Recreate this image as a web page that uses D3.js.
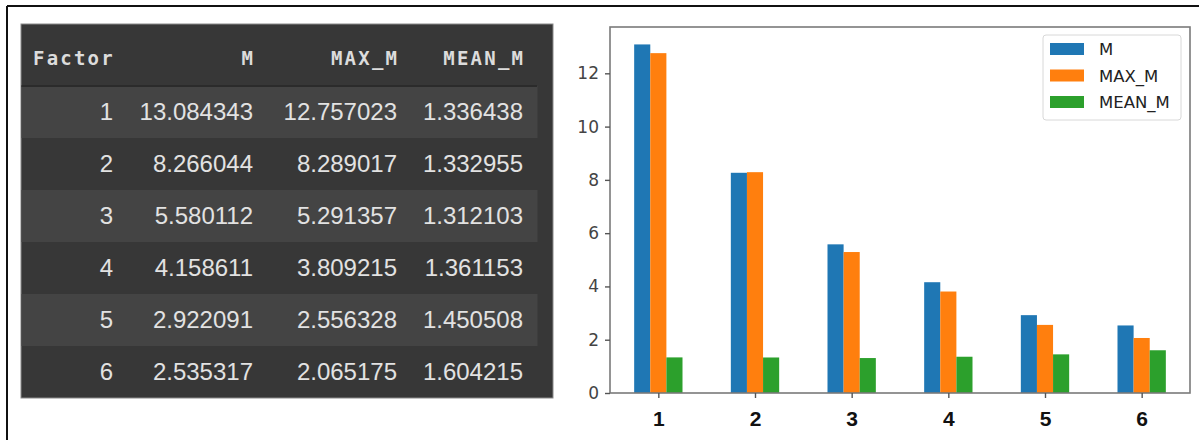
<!DOCTYPE html>
<html>
<head>
<meta charset="utf-8">
<script src="https://cdn.jsdelivr.net/npm/d3@7"></script>
<style>
  html, body { margin: 0; padding: 0; background: #fff; }
  svg { display: block; }
</style>
</head>
<body>
<svg id="canvas" width="1199" height="440"></svg>
<script>
// Factor table and per-factor statistics
const factors = [1, 2, 3, 4, 5, 6];
const mValues = [13.084343, 8.266044, 5.580112, 4.158611, 2.922091, 2.535317];
const maxValues = [12.757023, 8.289017, 5.291357, 3.809215, 2.556328, 2.065175];
const meanValues = [1.336438, 1.332955, 1.312103, 1.361153, 1.450508, 1.604215];
const seriesNames = ["M", "MAX_M", "MEAN_M"];
const columnHeaders = ["Factor", "M", "MAX_M", "MEAN_M"];
const yTicks = [0, 2, 4, 6, 8, 10, 12];

const seriesValues = [mValues, maxValues, meanValues];
const colors = d3.scaleOrdinal().domain(seriesNames).range(["#1f77b4", "#ff7f0e", "#2ca02c"]);

const svg = d3.select("#canvas");

// frame lines along top and left
svg.append("line").attr("x1", 7).attr("x2", 1199).attr("y1", 6).attr("y2", 6)
  .attr("stroke", "#111").attr("stroke-width", 2);
svg.append("line").attr("x1", 7).attr("x2", 7).attr("y1", 6).attr("y2", 440)
  .attr("stroke", "#111").attr("stroke-width", 2);

// ---------- dark table ----------
const table = { x: 21, y: 24, w: 532, h: 374, headerH: 62, rowH: 52, stripeRight: 537 };
const colRight = [113, 253, 397, 523];
const headSpacing = 2.2;

const tg = svg.append("g");
tg.append("rect").attr("x", table.x).attr("y", table.y).attr("width", table.w).attr("height", table.h)
  .attr("fill", "#373737").attr("stroke", "#8a8a8a").attr("stroke-width", 1);

const rowY = d3.scaleBand().domain(factors).range([table.y + table.headerH, table.y + table.headerH + table.rowH * factors.length]);

tg.selectAll("rect.stripe").data(factors.filter((d, i) => i % 2 === 0)).join("rect")
  .attr("class", "stripe")
  .attr("x", table.x + 0.5).attr("y", d => rowY(d))
  .attr("width", table.stripeRight - table.x).attr("height", rowY.bandwidth())
  .attr("fill", "#444444");

tg.append("line").attr("x1", table.x + 0.5).attr("x2", table.stripeRight)
  .attr("y1", table.y + table.headerH).attr("y2", table.y + table.headerH)
  .attr("stroke", "#2b2b2b").attr("stroke-width", 2);

tg.selectAll("text.head").data(columnHeaders).join("text")
  .attr("class", "head")
  .attr("x", (d, i) => i === 0 ? 33 : colRight[i] + headSpacing)
  .attr("y", table.y + 41)
  .attr("text-anchor", (d, i) => i === 0 ? "start" : "end")
  .attr("font-family", "'DejaVu Sans Mono', monospace")
  .attr("font-weight", "bold")
  .attr("font-size", 19)
  .attr("letter-spacing", headSpacing)
  .attr("fill", "#dcdcdc")
  .text(d => d);

const rows = factors.map((f, i) => [String(f), mValues[i].toFixed(6), maxValues[i].toFixed(6), meanValues[i].toFixed(6)]);
const rowG = tg.selectAll("g.row").data(rows).join("g").attr("class", "row")
  .attr("transform", (d, i) => `translate(0,${rowY(factors[i]) + 34})`);
rowG.selectAll("text").data(d => d).join("text")
  .attr("x", (d, i) => colRight[i])
  .attr("text-anchor", "end")
  .attr("font-family", "'Liberation Sans', Arial, sans-serif")
  .attr("font-size", 24)
  .attr("fill", "#e2e2e2")
  .text(d => d);

// ---------- grouped bar chart ----------
const plot = { left: 610, right: 1190, top: 27, bottom: 393 };
const yMax = d3.max(mValues) * 1.05;

const x0 = d3.scaleBand().domain(factors).range([plot.left, plot.right]).paddingInner(0.5).paddingOuter(0.25);
const x1 = d3.scaleBand().domain(seriesNames).range([0, x0.bandwidth()]);
const y = d3.scaleLinear().domain([0, yMax]).range([plot.bottom, plot.top]);

const cg = svg.append("g");

const groups = cg.selectAll("g.grp").data(factors).join("g").attr("class", "grp")
  .attr("transform", d => `translate(${x0(d)},0)`);
groups.selectAll("rect").data((f, i) => seriesNames.map((s, j) => ({ s, v: seriesValues[j][i] }))).join("rect")
  .attr("x", d => x1(d.s))
  .attr("width", x1.bandwidth())
  .attr("y", d => y(d.v))
  .attr("height", d => y(0) - y(d.v))
  .attr("fill", d => colors(d.s));

// axes frame
cg.append("rect").attr("x", plot.left).attr("y", plot.top)
  .attr("width", plot.right - plot.left).attr("height", plot.bottom - plot.top)
  .attr("fill", "none").attr("stroke", "#7a7a7a").attr("stroke-width", 1.6);

const yAxis = cg.append("g").attr("transform", `translate(${plot.left},0)`)
  .call(d3.axisLeft(y).tickValues(yTicks).tickSize(5).tickPadding(6).tickFormat(d3.format("d")));
yAxis.select(".domain").remove();
yAxis.selectAll(".tick line").attr("stroke", "#555").attr("stroke-width", 1.4);
yAxis.selectAll(".tick text")
  .attr("font-family", "'DejaVu Sans', sans-serif").attr("font-size", 17).attr("fill", "#444");

const xAxis = cg.append("g").attr("transform", `translate(0,${plot.bottom})`)
  .call(d3.axisBottom(d3.scalePoint().domain(factors).range([x0(1) + x0.bandwidth() / 2, x0(6) + x0.bandwidth() / 2]))
    .tickSize(5).tickPadding(13));
xAxis.select(".domain").remove();
xAxis.selectAll(".tick line").attr("stroke", "#555").attr("stroke-width", 1.4);
xAxis.selectAll(".tick text")
  .attr("font-family", "'Liberation Sans', Arial, sans-serif").attr("font-weight", "bold")
  .attr("font-size", 21).attr("fill", "#111");

// legend
const lg = cg.append("g").attr("transform", "translate(1043,35)");
lg.append("rect").attr("width", 138).attr("height", 85).attr("rx", 3)
  .attr("fill", "#fff").attr("stroke", "#d8d8d8").attr("stroke-width", 1);
const items = lg.selectAll("g.item").data(seriesNames).join("g").attr("class", "item")
  .attr("transform", (d, i) => `translate(0,${14 + i * 26.5})`);
items.append("rect").attr("x", 7).attr("y", -6).attr("width", 34).attr("height", 12)
  .attr("fill", d => colors(d));
items.append("text").attr("x", 56).attr("y", 6)
  .attr("font-family", "'DejaVu Sans', sans-serif").attr("font-size", 16.5).attr("fill", "#222")
  .text(d => d);
</script>
</body>
</html>
